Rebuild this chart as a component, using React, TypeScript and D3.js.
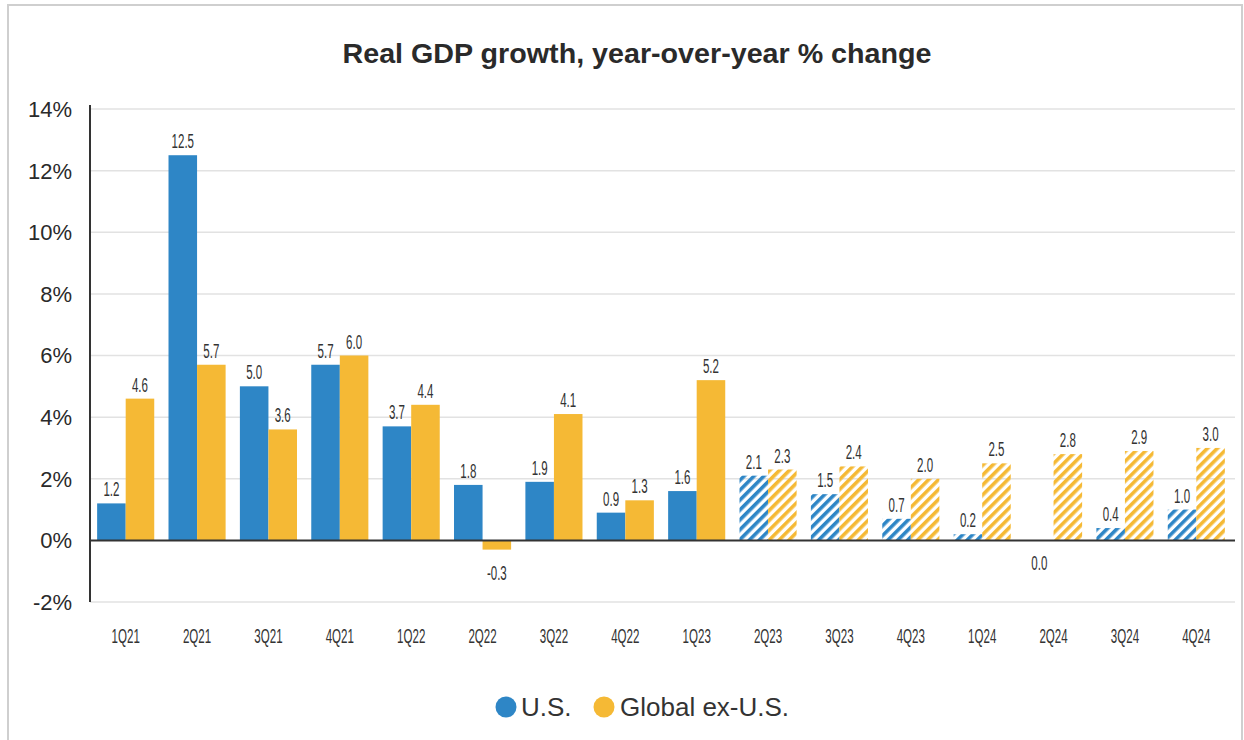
import React from "react";
import * as d3 from "d3";

// ── Data ──────────────────────────────────────────────────────────────────────
const QUARTERS = [
  "1Q21", "2Q21", "3Q21", "4Q21", "1Q22", "2Q22", "3Q22", "4Q22",
  "1Q23", "2Q23", "3Q23", "4Q23", "1Q24", "2Q24", "3Q24", "4Q24",
];
const US_VALUES = [1.2, 12.5, 5.0, 5.7, 3.7, 1.8, 1.9, 0.9, 1.6, 2.1, 1.5, 0.7, 0.2, 0.0, 0.4, 1.0];
const GLOBAL_VALUES = [4.6, 5.7, 3.6, 6.0, 4.4, -0.3, 4.1, 1.3, 5.2, 2.3, 2.4, 2.0, 2.5, 2.8, 2.9, 3.0];
// forecast quarters (drawn hatched) start here
const FORECAST_FROM = "2Q23";
const Y_TICKS = [-2, 0, 2, 4, 6, 8, 10, 12, 14];
const SERIES_NAMES = ["U.S.", "Global ex-U.S."];

// ── Layout / style ────────────────────────────────────────────────────────────
const W = 1244;
const H = 740;
const PLOT = { left: 90, right: 1232, top: 109, bottom: 602 };

const BLUE = "#2E86C6";
const GOLD = "#F5B935";
const TEXT = "#2a2a2a";
const FONT = "'Liberation Sans', Arial, sans-serif";

export default function App() {
  const x = d3
    .scaleBand<string>()
    .domain(QUARTERS)
    .range([PLOT.left, PLOT.right])
    .paddingInner(0.2)
    .paddingOuter(0.1);

  const sub = d3
    .scaleBand<string>()
    .domain(["us", "global"])
    .range([0, x.bandwidth()]);

  const y = d3.scaleLinear().domain([-2, 14]).range([PLOT.bottom, PLOT.top]);

  const forecastIdx = QUARTERS.indexOf(FORECAST_FROM);

  const series = [
    { key: "us", values: US_VALUES, color: BLUE, hatch: "hatch-blue" },
    { key: "global", values: GLOBAL_VALUES, color: GOLD, hatch: "hatch-gold" },
  ];

  return (
    <svg
      width={W}
      height={H}
      style={{ position: "absolute", left: 0, top: 0, background: "#fff" }}
    >
      <defs>
        {series.map((s) => (
          <pattern
            key={s.hatch}
            id={s.hatch}
            patternUnits="userSpaceOnUse"
            width={7}
            height={7}
            patternTransform="rotate(45)"
          >
            <rect x={0} y={0} width={3.6} height={7} fill={s.color} />
          </pattern>
        ))}
      </defs>

      {/* frame */}
      <rect x={8} y={5} width={1234} height={745} fill="none" stroke="#cfcfcf" strokeWidth={2} />

      {/* title */}
      <text
        x={637}
        y={63}
        textAnchor="middle"
        fontFamily={FONT}
        fontSize={28}
        fontWeight="bold"
        fill={TEXT}
        textLength={589}
        lengthAdjust="spacingAndGlyphs"
      >
        Real GDP growth, year-over-year % change
      </text>

      {/* grid + y ticks */}
      {Y_TICKS.map((t) => (
        <g key={t}>
          {t !== 0 && (
            <line
              x1={PLOT.left}
              x2={PLOT.right + 3}
              y1={y(t)}
              y2={y(t)}
              stroke="#e2e2e2"
              strokeWidth={1.5}
            />
          )}
          <text
            x={72}
            y={y(t)}
            dy="0.36em"
            textAnchor="end"
            fontFamily={FONT}
            fontSize={22}
            fill={TEXT}
          >
            {`${t}%`}
          </text>
        </g>
      ))}

      {/* bars */}
      {series.map((s) =>
        QUARTERS.map((q, i) => {
          const v = s.values[i];
          const bx = (x(q) ?? 0) + (sub(s.key) ?? 0);
          const top = y(Math.max(0, v));
          const h = Math.abs(y(v) - y(0));
          const fill = i >= forecastIdx ? `url(#${s.hatch})` : s.color;
          return (
            <rect
              key={`${s.key}-${q}`}
              x={bx}
              y={top}
              width={sub.bandwidth()}
              height={h}
              fill={fill}
            />
          );
        })
      )}

      {/* value labels */}
      {series.map((s) =>
        QUARTERS.map((q, i) => {
          const v = s.values[i];
          const cx = (x(q) ?? 0) + (sub(s.key) ?? 0) + sub.bandwidth() / 2;
          const ly = v > 0 ? y(v) - 7 : y(v) + 30;
          return (
            <text
              key={`lab-${s.key}-${q}`}
              transform={`translate(${cx},${ly}) scale(0.55,1)`}
              textAnchor="middle"
              fontFamily={FONT}
              fontSize={21}
              fill="#333"
            >
              {v.toFixed(1)}
            </text>
          );
        })
      )}

      {/* zero line */}
      <line x1={PLOT.left} x2={PLOT.right + 3} y1={y(0)} y2={y(0)} stroke="#333" strokeWidth={2} />
      {/* left axis */}
      <line x1={PLOT.left} x2={PLOT.left} y1={PLOT.top - 4} y2={PLOT.bottom} stroke="#333" strokeWidth={2} />

      {/* x labels */}
      {QUARTERS.map((q) => (
        <text
          key={`x-${q}`}
          transform={`translate(${(x(q) ?? 0) + x.bandwidth() / 2},${643}) scale(0.55,1)`}
          textAnchor="middle"
          fontFamily={FONT}
          fontSize={21}
          fill="#333"
        >
          {q}
        </text>
      ))}

      {/* legend */}
      {[
        { name: SERIES_NAMES[0], color: BLUE, cx: 506, tx: 521 },
        { name: SERIES_NAMES[1], color: GOLD, cx: 604, tx: 620 },
      ].map((l) => (
        <g key={l.name}>
          <circle cx={l.cx} cy={707} r={10.5} fill={l.color} />
          <text x={l.tx} y={716} fontFamily={FONT} fontSize={26} fill="#333">
            {l.name}
          </text>
        </g>
      ))}
    </svg>
  );
}
